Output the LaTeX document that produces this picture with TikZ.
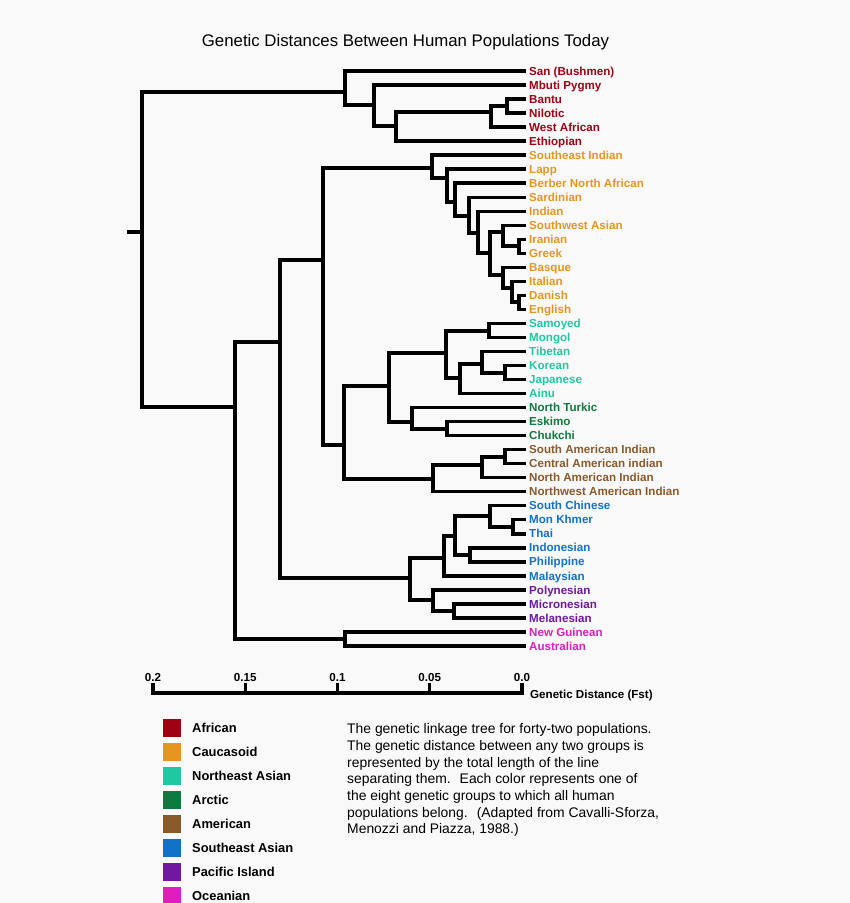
\documentclass[tikz,border=0pt]{standalone}
\usepackage{fontspec}
\setmainfont{Liberation Sans}
\definecolor{african}{RGB}{160,0,20}
\definecolor{caucasoid}{RGB}{230,150,30}
\definecolor{neasian}{RGB}{30,200,160}
\definecolor{arctic}{RGB}{14,122,64}
\definecolor{american}{RGB}{138,90,42}
\definecolor{seasian}{RGB}{18,114,200}
\definecolor{pacific}{RGB}{112,24,160}
\definecolor{oceanian}{RGB}{224,30,192}
\definecolor{fondo}{RGB}{249,249,249}

\begin{document}
\begin{tikzpicture}[x=1pt, y=-1pt,
    branch/.style={line width=3.4pt, line join=miter},
    leaf/.style={anchor=west, inner xsep=3pt, inner ysep=0pt, text height=8.3pt, text depth=0pt,
      font=\fontsize{11.6}{13}\selectfont\bfseries},
    ticklab/.style={anchor=base, inner sep=0pt, font=\fontsize{11.6}{13}\selectfont\bfseries},
    swatch/.style={minimum size=18pt, inner sep=0pt},
    legendlab/.style={anchor=west, inner sep=0pt, text height=9.2pt, text depth=0pt,
      font=\fontsize{12.9}{15}\selectfont\bfseries}]
  \useasboundingbox[fill=fondo] (0,0) rectangle (850,903);

  \node[anchor=base, inner sep=0pt, font=\fontsize{16.8}{20}\selectfont] (title) at (405.5,46.5)
    {Genetic Distances Between Human Populations Today};

  % leaves
  \foreach \lab/\col [count=\i from 0] in {San (Bushmen)/african, Mbuti Pygmy/african, Bantu/african,
      Nilotic/african, West African/african, Ethiopian/african, Southeast Indian/caucasoid, Lapp/caucasoid,
      Berber North African/caucasoid, Sardinian/caucasoid, Indian/caucasoid, Southwest Asian/caucasoid,
      Iranian/caucasoid, Greek/caucasoid, Basque/caucasoid, Italian/caucasoid, Danish/caucasoid,
      English/caucasoid, Samoyed/neasian, Mongol/neasian, Tibetan/neasian, Korean/neasian,
      Japanese/neasian, Ainu/neasian, North Turkic/arctic, Eskimo/arctic, Chukchi/arctic,
      South American Indian/american, Central American indian/american, North American Indian/american,
      Northwest American Indian/american, South Chinese/seasian, Mon Khmer/seasian, Thai/seasian,
      Indonesian/seasian, Philippine/seasian, Malaysian/seasian, Polynesian/pacific,
      Micronesian/pacific, Melanesian/pacific, New Guinean/oceanian, Australian/oceanian}
    \node[leaf, text=\col] (l\i) at (526,{71+14.024*\i}) {\lab};

  % internal nodes
  \coordinate (stub) at (127,232);
  \coordinate (root) at (142,232);
  \coordinate (afr) at (345,92);
  \coordinate (a1) at (374,105);
  \coordinate (a2) at (396,126);
  \coordinate (a3) at (491,112);
  \coordinate (a4) at (507,106);
  \coordinate (nafr) at (235,407);
  \coordinate (b1) at (280,342);
  \coordinate (oce) at (345,639);
  \coordinate (c) at (323,260);
  \coordinate (cau) at (432,168);
  \coordinate (c2) at (447,178);
  \coordinate (c3) at (455,202);
  \coordinate (c4) at (469,216);
  \coordinate (c5) at (478,233);
  \coordinate (c6) at (490,253);
  \coordinate (c7) at (503,232);
  \coordinate (c8) at (519,246);
  \coordinate (c9) at (503,275);
  \coordinate (c10) at (512,288);
  \coordinate (c11) at (519,302);
  \coordinate (d) at (344,445);
  \coordinate (e) at (389,386);
  \coordinate (f) at (446,353);
  \coordinate (f1) at (489,331);
  \coordinate (f2) at (460,378);
  \coordinate (f3) at (482,364);
  \coordinate (f4) at (505,373);
  \coordinate (arc) at (412,422);
  \coordinate (arc1) at (447,429);
  \coordinate (am) at (433,479);
  \coordinate (am1) at (482,465);
  \coordinate (am2) at (505,457);
  \coordinate (sea) at (410,578);
  \coordinate (s1) at (444,558);
  \coordinate (s2) at (455,536);
  \coordinate (s3) at (490,516);
  \coordinate (s4) at (513,527);
  \coordinate (s5) at (470,555);
  \coordinate (pac) at (433,600);
  \coordinate (p1) at (454,611);

  \draw[branch] (stub) -- (root);
  \foreach \p/\c in {root/afr, root/nafr, afr/l0.west, afr/a1, a1/l1.west, a1/a2, a2/a3, a2/l5.west,
      a3/a4, a3/l4.west, a4/l2.west, a4/l3.west, nafr/b1, nafr/oce, b1/c, b1/sea, oce/l40.west, oce/l41.west,
      c/cau, c/d, cau/l6.west, cau/c2, c2/l7.west, c2/c3, c3/l8.west, c3/c4, c4/l9.west, c4/c5,
      c5/l10.west, c5/c6, c6/c7, c6/c9, c7/l11.west, c7/c8, c8/l12.west, c8/l13.west, c9/l14.west, c9/c10,
      c10/l15.west, c10/c11, c11/l16.west, c11/l17.west, d/e, d/am, e/f, e/arc, f/f1, f/f2,
      f1/l18.west, f1/l19.west, f2/f3, f2/l23.west, f3/l20.west, f3/f4, f4/l21.west, f4/l22.west,
      arc/l24.west, arc/arc1, arc1/l25.west, arc1/l26.west, am/am1, am/l30.west, am1/am2, am1/l29.west,
      am2/l27.west, am2/l28.west, sea/s1, sea/pac, s1/s2, s1/l36.west, s2/s3, s2/s5, s3/l31.west, s3/s4,
      s4/l32.west, s4/l33.west, s5/l34.west, s5/l35.west, pac/l37.west, pac/p1, p1/l38.west, p1/l39.west}
    \draw[branch] (\p) |- (\c);

  % distance scale
  \coordinate (axl) at (153,693);
  \coordinate (axr) at (522,693);
  \draw[branch] (axl) ++(0,-10) -- (axl) -- (axr) -- ++(0,-10);
  \foreach \d in {0.15,0.1,0.05}
    \draw[branch] ({522-1845*\d},693) -- ++(0,-10);
  \foreach \d [count=\n] in {0.2,0.15,0.1,0.05,0.0}
    \node[ticklab] (tk\n) at ({522-1845*\d},681) {\d};
  \node[anchor=west, inner sep=0pt, text height=8.3pt, text depth=0pt,
    font=\fontsize{11.6}{13}\selectfont\bfseries] (fst) at (530,694) {Genetic Distance (Fst)};

  % legend
  \foreach \nm/\col [count=\k from 0] in {African/african, Caucasoid/caucasoid, Northeast Asian/neasian,
      Arctic/arctic, American/american, Southeast Asian/seasian, Pacific Island/pacific, Oceanian/oceanian}
  {
    \node[swatch, fill=\col] (sw\k) at (172,{728+24*\k}) {};
    \node[legendlab] (g\k) at (192,{728+24*\k}) {\nm};
  }

  \node[anchor=north west, inner sep=0pt, align=left, font=\fontsize{13.9}{16.7}\selectfont] (caption) at (347,723.5)
    {The genetic linkage tree for forty-two populations.\\
     The genetic distance between any two groups is\\
     represented by the total length of the line\\
     separating them.~ Each color represents one of\\
     the eight genetic groups to which all human\\
     populations belong.~ (Adapted from Cavalli-Sforza,\\
     Menozzi and Piazza, 1988.)};
\end{tikzpicture}
\end{document}
